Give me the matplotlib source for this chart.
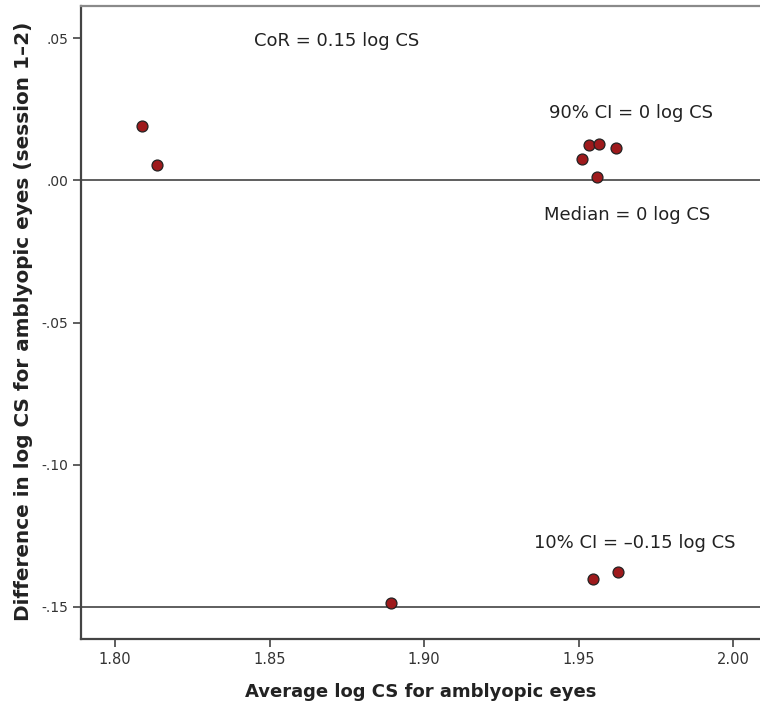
import numpy as np
import matplotlib.pyplot as plt

# average log CS (x) vs. session 1-2 difference (y), amblyopic eyes
avg_cs = [1.8086, 1.8137, 1.9510, 1.9535, 1.9566, 1.9620, 1.9561, 1.8893, 1.9548, 1.9626]
diff_cs = [0.0191, 0.0055, 0.0076, 0.0123, 0.0129, 0.0112, 0.0012, -0.1487, -0.1402, -0.1377]

median_line = 0.0
lower_line = -0.15

x_ticks = [1.80, 1.85, 1.90, 1.95, 2.00]
y_ticks = [0.05, 0.00, -0.05, -0.10, -0.15]
y_tick_labels = [".05", ".00", "-.05", "-.10", "-.15"]

fig = plt.figure(figsize=(7.6, 7.06), dpi=100)
ax = fig.add_axes([0.1066, 0.0949, 0.8934, 0.8966])

ax.set_xlim(1.789, 2.0087)
ax.set_ylim(-0.1613, 0.0613)

ax.axhline(median_line, color="#333333", lw=1.1, zorder=1)
ax.axhline(lower_line, color="#333333", lw=1.1, zorder=1)

ax.scatter(avg_cs, diff_cs, s=62, color="#9e1a1c", edgecolor="#222222",
           linewidth=0.9, zorder=3)

txt = dict(fontsize=13, color="#222222", ha="center", va="center")
ax.text(1.8718, 0.0490, "CoR = 0.15 log CS", **txt)
ax.text(1.9671, 0.0235, "90% CI = 0 log CS", **txt)
ax.text(1.9658, -0.0123, "Median = 0 log CS", **txt)
ax.text(1.9683, -0.1274, "10% CI = \u20130.15 log CS", **txt)

ax.set_xticks(x_ticks)
ax.set_xticklabels(["%.2f" % v for v in x_ticks])
ax.set_yticks(y_ticks)
ax.set_yticklabels(y_tick_labels)
ax.tick_params(axis="both", labelsize=10, colors="#333333", length=6,
               width=1.1, pad=3)
ax.tick_params(axis="x", labelsize=10.5)

ax.set_xlabel("Average log CS for amblyopic eyes", fontsize=13,
              fontweight="bold", color="#222222", labelpad=12)
ax.set_ylabel("Difference in log CS for amblyopic eyes (session 1\u20132)",
              fontsize=14.4, fontweight="bold", color="#222222")
ax.yaxis.set_label_coords(-0.0707, 0.502)

ax.spines["right"].set_visible(False)
ax.spines["left"].set_color("#444444")
ax.spines["bottom"].set_color("#444444")
ax.spines["top"].set_color("#8a8a8a")
for s in ["left", "bottom", "top"]:
    ax.spines[s].set_linewidth(1.6)

fig.savefig("out.png", dpi=100)
